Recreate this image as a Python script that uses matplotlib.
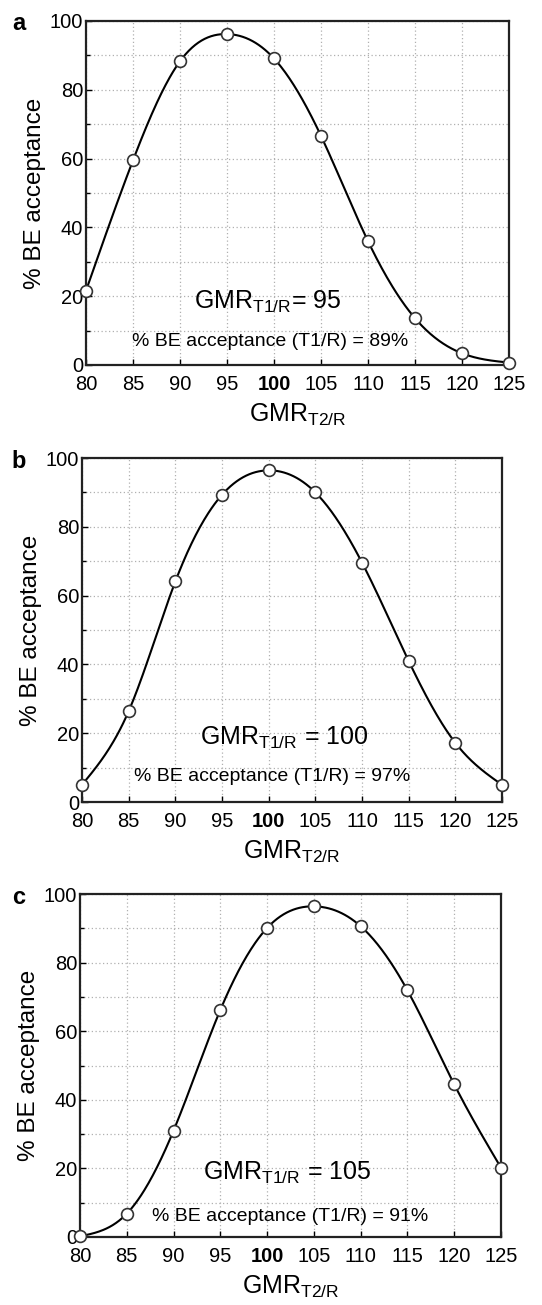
import numpy as np
import matplotlib
matplotlib.use("Agg")
import matplotlib.pyplot as plt
from matplotlib.ticker import MultipleLocator

plt.rcParams['font.family'] = ['Liberation Sans', 'DejaVu Sans']
plt.rcParams['mathtext.fontset'] = 'custom'
plt.rcParams['mathtext.rm'] = 'Liberation Sans'
plt.rcParams['mathtext.it'] = 'Liberation Sans'

gmr_t2r = [80, 85, 90, 95, 100, 105, 110, 115, 120, 125]
x_tick_labels = ['80', '85', '90', '95', '100', '105', '110', '115', '120', '125']

accept_a = [21.6, 59.5, 88.3, 96.2, 89.1, 66.6, 36.0, 13.6, 3.4, 0.7]
accept_b = [5.0, 26.4, 64.1, 89.3, 96.4, 90.0, 69.6, 41.0, 17.2, 5.0]
accept_c = [0.2, 6.8, 31.0, 66.2, 90.1, 96.4, 90.6, 71.9, 44.5, 20.2]

panel_letters = ['a', 'b', 'c']
gmr_t1r_values = ['95', '100', '105']
t1r_accept = ['89%', '97%', '91%']
series = [accept_a, accept_b, accept_c]


def natural_spline(x, y, n=400):
    x = np.asarray(x, float)
    y = np.asarray(y, float)
    m = len(x)
    h = np.diff(x)
    A = np.zeros((m, m))
    r = np.zeros(m)
    A[0, 0] = 1
    A[-1, -1] = 1
    for i in range(1, m - 1):
        A[i, i - 1] = h[i - 1]
        A[i, i] = 2 * (h[i - 1] + h[i])
        A[i, i + 1] = h[i]
        r[i] = 3 * ((y[i + 1] - y[i]) / h[i] - (y[i] - y[i - 1]) / h[i - 1])
    c = np.linalg.solve(A, r)
    b = np.zeros(m - 1)
    d = np.zeros(m - 1)
    for i in range(m - 1):
        b[i] = (y[i + 1] - y[i]) / h[i] - h[i] * (2 * c[i] + c[i + 1]) / 3
        d[i] = (c[i + 1] - c[i]) / (3 * h[i])
    xs = np.linspace(x[0], x[-1], n)
    idx = np.clip(np.searchsorted(x, xs) - 1, 0, m - 2)
    dx = xs - x[idx]
    ys = y[idx] + b[idx] * dx + c[idx] * dx ** 2 + d[idx] * dx ** 3
    return xs, ys


W, H = 542, 1305
fig = plt.figure(figsize=(W / 100, H / 100), dpi=100)

# axes boxes in pixels: left, top, right, bottom
boxes = [(86, 21, 509, 365), (82, 458, 502, 802), (80, 894, 501, 1237)]
t1_pos = [(99.3, 18.3), (101.7, 18.6), (102.1, 18.7)]
acc_pos = [(99.6, 6.7), (100.4, 7.3), (102.5, 6.1)]

for k in range(3):
    l, t, r, b = boxes[k]
    ax = fig.add_axes([l / W, 1 - b / H, (r - l) / W, (b - t) / H])
    xs, ys = natural_spline(gmr_t2r, series[k])
    ax.plot(xs, ys, color='black', lw=1.5, zorder=3)
    ax.plot(gmr_t2r, series[k], 'o', ms=8.5, mfc='white', mec='#333333',
            mew=1.2, zorder=4, clip_on=False)
    ax.set_xlim(80, 125)
    ax.set_ylim(0, 100)
    ax.set_xticks(gmr_t2r)
    ax.set_xticklabels(x_tick_labels)
    for lab in ax.get_xticklabels():
        if lab.get_text() == '100':
            lab.set_fontweight('bold')
    ax.yaxis.set_major_locator(MultipleLocator(20))
    ax.yaxis.set_minor_locator(MultipleLocator(10))
    ax.tick_params(axis='both', which='both', direction='in', labelsize=14.5,
                   colors='black')
    ax.tick_params(which='major', length=4, width=1)
    ax.tick_params(which='minor', length=3, width=1)
    ax.tick_params(axis='x', pad=7)
    ax.tick_params(axis='y', pad=2)
    ax.grid(True, which='major', axis='x', linestyle=(0, (1, 2)),
            color='#b0b0b0', lw=0.9)
    ax.grid(True, which='both', axis='y', linestyle=(0, (1, 2)),
            color='#b0b0b0', lw=0.9)
    ax.set_axisbelow(True)
    for s in ax.spines.values():
        s.set_linewidth(1.6)
        s.set_color('#222222')
    ax.set_ylabel('% BE acceptance', fontsize=17.5, labelpad=3)
    ax.set_xlabel(r'GMR$_{\mathrm{T2/R}}$', fontsize=18, labelpad=6)
    sep = '= ' if k == 0 else ' = '
    ax.text(t1_pos[k][0], t1_pos[k][1],
            r'GMR$_{\mathrm{T1/R}}$' + sep + gmr_t1r_values[k],
            ha='center', va='center', fontsize=18)
    ax.text(acc_pos[k][0], acc_pos[k][1],
            '% BE acceptance (T1/R) = ' + t1r_accept[k],
            ha='center', va='center', fontsize=14)
    fig.text(19 / W, 1 - (t + 3) / H, panel_letters[k], fontsize=17,
             fontweight='bold', ha='center', va='center')

fig.savefig('out.png', dpi=100, facecolor='white')
